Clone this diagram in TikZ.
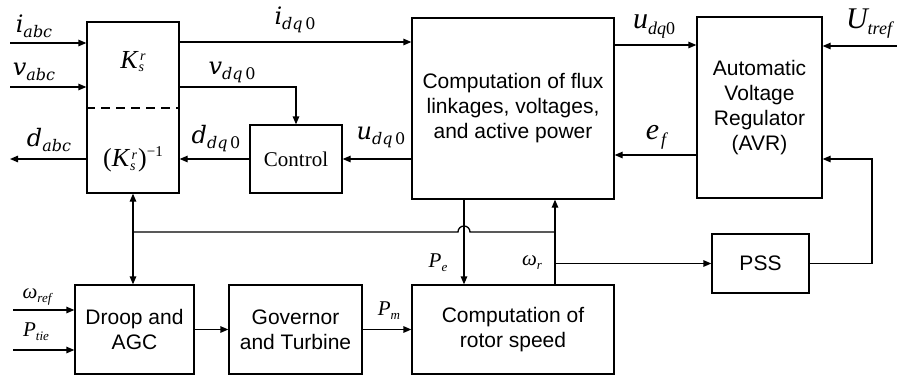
\documentclass[tikz,border=0pt]{standalone}
\usepackage{fontspec}
\setmainfont{Liberation Serif}
\setsansfont{Liberation Sans}
\newfontfamily\dvs{DejaVu Serif}
\usetikzlibrary{arrows.meta,calc}
\newcommand{\CL}[2]{{\dvs\itshape\fontsize{24}{24}\selectfont #1\raisebox{-5pt}{\fontsize{16}{16}\selectfont #2}}}
\newcommand{\TLb}[2]{{\itshape\fontsize{30}{30}\selectfont #1\raisebox{-6pt}{\fontsize{18}{18}\selectfont #2}}}
\newcommand{\TLs}[2]{{\itshape\fontsize{21}{21}\selectfont #1\raisebox{-4pt}{\fontsize{13}{13}\selectfont #2}}}
\newcommand{\Ksr}{{\itshape\fontsize{26}{26}\selectfont K\kern1pt{\fontsize{14}{10}\selectfont\begin{tabular}[c]{@{}l@{}}\kern1.5pt r\\[1pt]s\end{tabular}}}}
\begin{document}
\begin{tikzpicture}[x=1pt,y=-1pt,line width=1.3pt,
  >={Triangle[length=8pt,width=6.5pt]},
  blk/.style={draw,rectangle,inner sep=0pt,align=center,font=\sffamily\fontsize{21}{25}\selectfont},
  lab/.style={inner sep=0pt}]
\useasboundingbox (0,0) rectangle (897,378);
% blocks
\node[blk,minimum width=92pt,minimum height=171pt] (kmat) at (133,107.5) {};
\node[blk,font=\fontsize{21}{25}\selectfont,minimum width=92pt,minimum height=68pt] (ctrl) at (296,159) {Control};
\node[blk,minimum width=202pt,minimum height=181pt] (comp) at (513,108.5) {Computation of flux\\linkages, voltages,\\and active power};
\node[blk,minimum width=125pt,minimum height=181pt] (avr) at (759.5,107.5) {Automatic\\Voltage\\Regulator\\(AVR)};
\node[blk,minimum width=97pt,minimum height=59pt] (pss) at (760.5,263.5) {PSS};
\node[blk,minimum width=119pt,minimum height=89pt] (droop) at (134.5,329.5) {Droop and\\AGC};
\node[blk,minimum width=133pt,minimum height=89pt] (gov) at (295.5,329.5) {Governor\\and Turbine};
\node[blk,minimum width=202pt,minimum height=89pt] (rotor) at (513,329.5) {Computation of\\rotor speed};
% contents of transformation block
\node[lab] (ktop) at (133,63) {\Ksr};
\node[lab] (kbot) at (133,160) {{\fontsize{26}{26}\selectfont(\Ksr\kern1pt)\raisebox{10pt}{\fontsize{15}{15}\selectfont −1}}};
\coordinate (dsh) at (0,108);
\draw[dash pattern=on 9pt off 6pt] (kmat.west |- dsh) -- (kmat.east |- dsh);
% coordinates
\coordinate (ia) at (10,43);
\coordinate (va) at (10,87);
\coordinate (da) at (10,159);
\coordinate (idq) at (0,42);
\coordinate (vdq) at (0,87);
\coordinate (udq) at (0,45);
\coordinate (ut) at (897,46);
\coordinate (ef) at (0,155);
\coordinate (fb) at (872,159);
\coordinate (hl) at (0,232);
\coordinate (pex) at (464,0);
\coordinate (wx) at (555,0);
\coordinate (wref) at (13,310);
\coordinate (ptie) at (13,350);
% upper connectors
\draw[->] (ia) -- (ia -| kmat.west);
\draw[->] (va) -- (va -| kmat.west);
\draw[->] (da -| kmat.west) -- (da);
\draw[->] (kmat.east |- idq) -- (comp.west |- idq);
\draw[->] (kmat.east |- vdq) -| (ctrl.north);
\draw[->] (ctrl.west) -- (kmat.east |- ctrl.west);
\draw[->] (comp.west |- ctrl.east) -- (ctrl.east);
\draw[->] (comp.east |- udq) -- (avr.west |- udq);
\draw[->] (ut) -- (avr.east |- ut);
\draw[->] (avr.west |- ef) -- (comp.east |- ef);
\draw[->] (pss.east) -| (fb) -- (fb -| avr.east);
% lower connectors
\draw[<->] (kmat.south) -- (kmat.south |- droop.north);
\draw ($(kmat.south |- hl)$) -- ($(pex |- hl)+(-6,0)$) arc[start angle=180,end angle=0,radius=6pt] -- (wx |- hl);
\draw[->] (comp.south -| pex) -- (rotor.north -| pex);
\draw[->] (rotor.north -| wx) -- (comp.south -| wx);
\draw[->] (wx |- pss.west) -- (pss.west);
\draw[->] (wref) -- (wref -| droop.west);
\draw[->] (ptie) -- (ptie -| droop.west);
\draw[->] (droop.east) -- (gov.west);
\draw[->] (gov.east) -- (rotor.west);
% labels
\node[lab] (lia) at (34,26) {\CL{i}{abc}};
\node[lab] (lva) at (34,72) {\CL{v}{abc}};
\node[lab] (lda) at (49,140) {\CL{d}{abc}};
\node[lab] (lidq) at (295,20) {\CL{i}{dq\,\upshape 0}};
\node[lab] (lvdq) at (232,72) {\CL{v}{dq\,\upshape 0}};
\node[lab] (lddq) at (216,139) {\CL{d}{dq\,\upshape 0}};
\node[lab] (ludq) at (381,137) {\CL{u}{dq\,\upshape 0}};
\node[lab] (ludq2) at (654,27) {\TLb{u}{dq\upshape 0}};
\node[lab] (lut) at (869,24) {\TLb{U}{tref}};
\node[lab] (lef) at (656,137) {\TLb{e}{\kern2pt f}};
\node[lab] (lwref) at (37,297) {\TLs{ω}{ref}};
\node[lab] (lptie) at (36,332) {\TLs{P}{tie}};
\node[lab] (lpm) at (389,311) {\TLs{P}{m}};
\node[lab] (lpe) at (438,263) {\TLs{P}{e}};
\node[lab] (lwr) at (532,263) {\TLs{ω}{r}};
\end{tikzpicture}
\end{document}
